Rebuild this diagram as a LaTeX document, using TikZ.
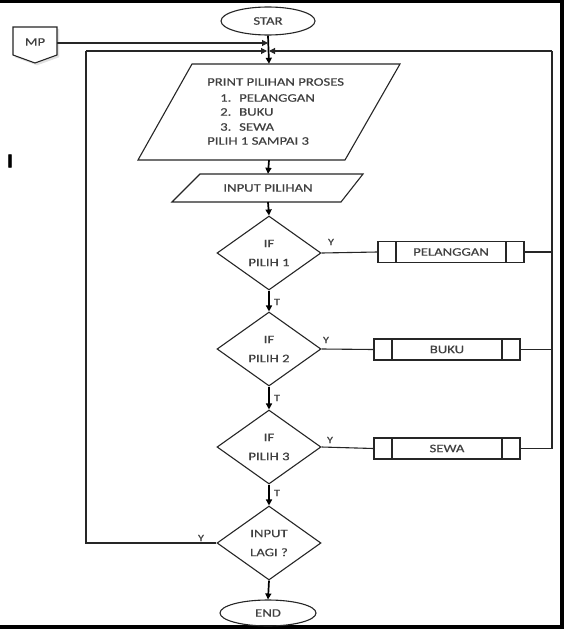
\documentclass[tikz,border=0pt]{standalone}
\usepackage{fontspec}
\setmainfont{Carlito}
\newfontfamily\lbl[FakeStretch=1.28,FakeBold=0.4]{Carlito}
\newfontfamily\markfont[FakeBold=2.5]{Carlito}
\usetikzlibrary{shapes.geometric,arrows.meta,calc}
\begin{document}
\begin{tikzpicture}[x=1pt,y=-1pt,
  shp/.style={draw=black!85, line width=1.1pt},
  flow/.style={draw=black, line width=1.7pt, -{Triangle[length=6pt,width=6pt]}},
  thinln/.style={draw=black!85, line width=1.1pt},
  thinarr/.style={draw=black!85, line width=1.1pt, -{Triangle[length=6pt,width=6pt]}},
  txt/.style={font=\lbl\fontsize{11.5}{19}\selectfont, text=black!75, inner sep=0pt},
  sml/.style={font=\lbl\fontsize{9.5}{10}\selectfont, text=black!75, inner sep=0pt},
  dec/.style={shp, diamond, minimum width=104pt, minimum height=74pt, inner sep=0pt, txt, align=center},
  term/.style={shp, ellipse, inner sep=0pt, txt},
  sub/.style={shp, rectangle, minimum width=146pt, minimum height=21pt, inner sep=0pt, txt,
    path picture={
      \draw[line width=1.1pt, black!85] ([xshift=18pt]path picture bounding box.south west) -- ([xshift=18pt]path picture bounding box.north west);
      \draw[line width=1.1pt, black!85] ([xshift=-18pt]path picture bounding box.south east) -- ([xshift=-18pt]path picture bounding box.north east);
    }},
]
% canvas and frame
\useasboundingbox (0,0) rectangle (564,629);
\fill[white] (0,0) rectangle (564,629);
\fill[black] (0,0) rectangle (564,3);
\fill[black] (560,0) rectangle (564,629);
\fill[black] (0,625) rectangle (564,629);

% stray mark
\node[font=\markfont\bfseries\fontsize{20}{20}\selectfont, text=black, inner sep=0pt] (mark) at (10,161) {I};

% terminals
\node[term, minimum width=94pt, minimum height=28pt] (star) at (268,21) {STAR};
\node[term, minimum width=96pt, minimum height=26pt] (endn) at (268,613) {END};

% off-page connector MP
\draw[black!12, fill=black!12] (15,29) -- (59,29) -- (59,57) -- (37,65) -- (15,57) -- cycle;
\draw[shp, fill=white] (13,27) -- (57,27) -- (57,55) -- (35,63) -- (13,55) -- cycle;
\node[txt] (mp) at (35,42) {MP};
\coordinate (mpout) at (57,43);
\coordinate (j1) at (268,43);
\coordinate (j2) at (268,51);
\coordinate (lt) at (86,51);
\coordinate (rt) at (552,51);

% print parallelogram
\draw[shp] (192,64) -- (400,64) -- (345,160) -- (138,160) -- cycle;
\node[minimum width=200pt, minimum height=96pt, inner sep=0pt] (printn) at (269,112) {};
\node[txt, anchor=west] (p1) at (207,82) {PRINT PILIHAN PROSES};
\node[txt, anchor=west] (n1) at (220,98) {1.};
\node[txt, anchor=west] (p2) at (239,98) {PELANGGAN};
\node[txt, anchor=west] (n2) at (220,112) {2.};
\node[txt, anchor=west] (p3) at (239,112) {BUKU};
\node[txt, anchor=west] (n3) at (220,127) {3.};
\node[txt, anchor=west] (p4) at (239,127) {SEWA};
\node[txt, anchor=west] (p5) at (207,141) {PILIH 1 SAMPAI 3};

% input parallelogram
\draw[shp] (200,174) -- (363,174) -- (341,202) -- (172,202) -- cycle;
\node[txt, minimum width=150pt, minimum height=28pt] (inp) at (268,188) {INPUT PILIHAN};

% decisions
\node[dec] (d1) at (269,253) {IF\\PILIH 1};
\node[dec] (d2) at (269,349) {IF\\PILIH 2};
\node[dec] (d3) at (269,447) {IF\\PILIH 3};
\node[dec] (d4) at (269,543) {INPUT\\LAGI ?};

% subprocesses
\node[sub] (pel) at (451,252) {PELANGGAN};
\node[sub] (buku) at (447,349.5) {BUKU};
\node[sub] (sewa) at (447,448.5) {SEWA};

% main flow
\draw[flow] (star.south) -- (printn.north);
\draw[thinarr] (mpout) -- (j1);
\draw[flow] (printn.south) -- (inp.north);
\draw[flow] (inp.south) -- (d1.north);
\draw[flow] (d1.south) -- (d2.north);
\draw[flow] (d2.south) -- (d3.north);
\draw[flow] (d3.south) -- (d4.north);
\draw[flow] (d4.south) -- (endn.north);

% yes branches
\draw[thinln] (d1.east) -- (pel.west);
\draw[thinln] (d2.east) -- (buku.west);
\draw[thinln] (d3.east) -- (sewa.west);
\draw[thinln] (pel.east) -- (pel.east -| rt);
\draw[thinln] (buku.east) -- (buku.east -| rt);
\draw[thinln] (sewa.east) -| (rt);
\draw[thinarr] (rt) -- ([xshift=1pt]j2);
\draw[thinln] (d4.west) -| (lt);
\draw[thinarr] (lt) -- ([xshift=-1pt]j2);

% labels
\node[sml] (y1) at (331,242) {Y};
\node[sml] (y2) at (326,340) {Y};
\node[sml] (y3) at (330,440) {Y};
\node[sml] (y4) at (201,538) {Y};
\node[sml] (t1) at (277,302) {T};
\node[sml] (t2) at (277,398) {T};
\node[sml] (t3) at (277,493) {T};
\end{tikzpicture}
\end{document}
